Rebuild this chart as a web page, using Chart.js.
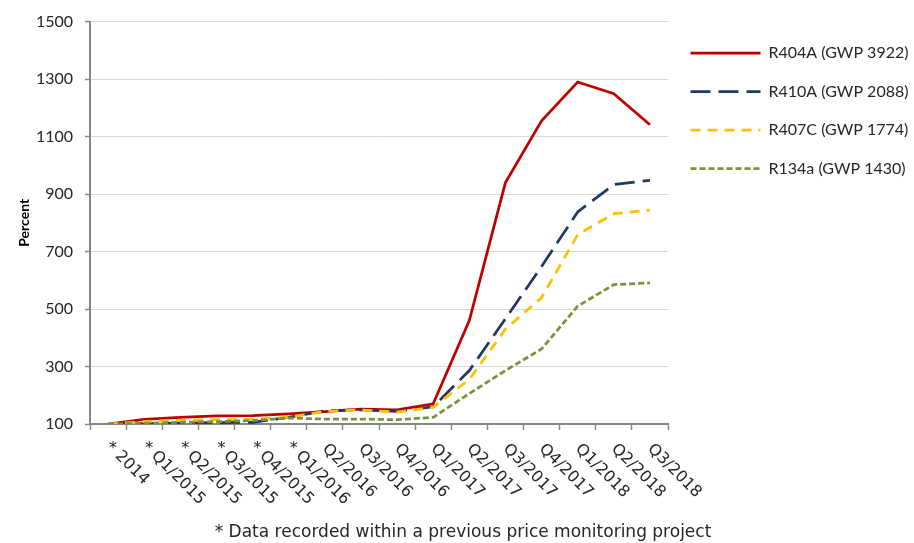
<!DOCTYPE html>
<html>
<head>
<meta charset="utf-8">
<script src="https://cdn.jsdelivr.net/npm/chart.js@4.4.1/dist/chart.umd.min.js"></script>
<style>
  html, body { margin: 0; padding: 0; background: #ffffff; }
  #wrap { width: 914px; height: 543px; }
</style>
</head>
<body>
<div id="wrap"><canvas id="c" width="914" height="543"></canvas></div>
<script>
// ---- Data ----
const categories = ['* 2014', '* Q1/2015', '* Q2/2015', '* Q3/2015', '* Q4/2015', '* Q1/2016',
  'Q2/2016', 'Q3/2016', 'Q4/2016', 'Q1/2017', 'Q2/2017', 'Q3/2017', 'Q4/2017', 'Q1/2018', 'Q2/2018', 'Q3/2018'];
const seriesNames = ['R404A (GWP 3922)', 'R410A (GWP 2088)', 'R407C (GWP 1774)', 'R134a (GWP 1430)'];
const r404a = [100, 116, 123, 128, 129, 135, 143, 152, 149, 170, 460, 940, 1155, 1290, 1249, 1141];
const r410a = [100, 102, 103, 105, 106, 123, 146, 149, 144, 160, 286, 466, 648, 838, 933, 948];
const r407c = [100, 108, 113, 115, 116, 123, 144, 149, 141, 158, 255, 430, 540, 759, 832, 844];
const r134a = [100, 102, 106, 108, 112, 121, 117, 117, 115, 123, 206, 286, 361, 510, 585, 591];
const yTicks = [100, 300, 500, 700, 900, 1100, 1300, 1500];
const yTitle = 'Percent';
const footnote = '* Data recorded within a previous price monitoring project';

// ---- Styles ----
const TXT = '#262626';
const AXIS = '#868686';
const GRID = '#d9d9d9';
const LEG_PAD = 22.5;
const PAD_LEFT = 12;

const xLabelPlugin = {
  id: 'xLabels',
  afterDraw(chart) {
    const { ctx } = chart;
    const x = chart.scales.x;
    const base = chart.chartArea.bottom;
    ctx.save();
    ctx.font = '16px "DejaVu Sans"';
    ctx.fillStyle = TXT;
    categories.forEach((lab, i) => {
      const px = x.getPixelForValue(i);
      const starred = lab.startsWith('* ');
      const text = starred ? lab.slice(2) : lab;
      let ax = px, ay = base + 22.5;
      if (starred) {
        ctx.textAlign = 'center';
        ctx.textBaseline = 'middle';
        ctx.fillText('*', px + 5, base + 25);
        ax = px + 9.5; ay = base + 29.5;
      }
      ctx.save();
      ctx.translate(ax, ay);
      ctx.rotate(Math.PI / 4);
      ctx.textAlign = 'left';
      ctx.textBaseline = 'middle';
      ctx.fillText(text, 0, 0);
      ctx.restore();
    });
    ctx.restore();
  }
};

function ds(label, data, color, dash, order) {
  return {
    label, data,
    borderColor: color,
    backgroundColor: color,
    borderWidth: 2.75,
    borderDash: dash,
    borderCapStyle: 'butt',
    pointRadius: 0,
    pointHoverRadius: 0,
    tension: 0,
    fill: false,
    order
  };
}

new Chart(document.getElementById('c'), {
  type: 'line',
  data: {
    labels: categories,
    datasets: [
      ds(seriesNames[0], r404a, '#C00000', [], 4),
      ds(seriesNames[1], r410a, '#1F3864', [20, 8], 3),
      ds(seriesNames[2], r407c, '#FFC000', [10, 7], 2),
      ds(seriesNames[3], r134a, '#77933C', [6, 3], 1)
    ]
  },
  plugins: [xLabelPlugin],
  options: {
    responsive: false,
    animation: false,
    layout: { padding: { top: 18, left: PAD_LEFT, right: 0, bottom: 0 } },
    plugins: {
      tooltip: { enabled: false },
      legend: {
        position: 'right',
        align: 'start',
        maxWidth: 914 - 668,
        title: { display: true, text: '', font: { size: 1, lineHeight: 1 }, padding: { top: 3.5, bottom: 0 } },
        labels: {
          usePointStyle: true,
          pointStyle: 'line',
          pointStyleWidth: 70,
          boxHeight: 16,
          padding: LEG_PAD,
          font: { family: 'Lato', size: 16 },
          color: TXT,
          sort: (a, b) => a.datasetIndex - b.datasetIndex,
          generateLabels(chart) {
            const items = Chart.defaults.plugins.legend.labels.generateLabels(chart);
            return items.map(it => {
              const d = chart.data.datasets[it.datasetIndex];
              it.lineDash = d.borderDash;
              it.lineWidth = d.borderWidth;
              it.strokeStyle = d.borderColor;
              it.fillStyle = d.borderColor;
              it.lineCap = 'butt';
              it.pointStyle = 'line';
              return it;
            });
          }
        }
      },
      title: {
        display: true,
        position: 'bottom',
        text: footnote,
        color: TXT,
        font: { family: 'DejaVu Sans', size: 17, weight: 'normal', lineHeight: 1.2 },
        padding: { top: 3, bottom: 0 }
      }
    },
    scales: {
      x: {
        type: 'category',
        offset: true,
        grid: { display: true, offset: true, drawOnChartArea: false, drawTicks: true, tickLength: 6, tickColor: AXIS, tickWidth: 1.5 },
        border: { display: true, color: AXIS, width: 2 },
        ticks: { display: false },
        afterFit(scale) { scale.height = 543 - 23.4 - 424; }
      },
      y: {
        min: 100,
        max: 1500,
        afterBuildTicks(scale) { scale.ticks = yTicks.map(v => ({ value: v })); },
        grid: { color: GRID, lineWidth: 1, tickLength: 5, tickColor: AXIS, tickWidth: 1.5 },
        border: { display: true, color: AXIS, width: 2 },
        ticks: { color: TXT, font: { family: 'Lato', size: 16 }, padding: 12, callback: (v) => String(v) },
        title: { display: true, text: yTitle, color: '#000', font: { family: 'Lato', size: 14, weight: 'bold' }, padding: { top: 16 - PAD_LEFT, bottom: 0 } },
        afterFit(scale) { scale.width = 90 - PAD_LEFT; }
      }
    }
  }
});
</script>
</body>
</html>
